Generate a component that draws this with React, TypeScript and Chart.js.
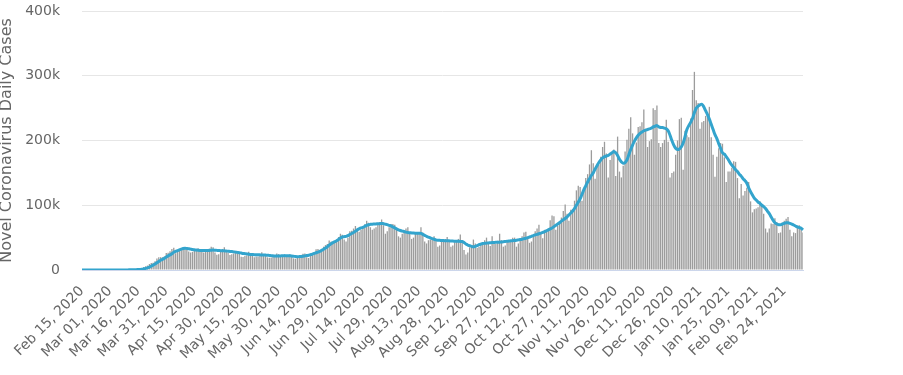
import React, { useEffect, useRef } from "react";
import { Chart, registerables } from "chart.js";

Chart.register(...registerables);

// Daily new cases (thousands), one value per day from Feb 15, 2020 to Mar 06, 2021
const dailyNewCases: number[] = [
  0, 0, 0, 0, 0, 0, 0,
  0, 0, 0, 0, 0, 0, 0,
  0.01, 0.01, 0.02, 0.03, 0.03, 0.06, 0.08,
  0.1, 0.1, 0.2, 0.3, 0.4, 0.5, 0.6,
  0.8, 0.8, 1.0, 1.8, 2.8, 4.7, 5.6,
  6.9, 9.3, 10.8, 11.2, 13.4, 17.8, 19.5,
  19.8, 19.6, 21.0, 26.2, 26.6, 28.8, 32.4,
  34.4, 25.9, 29.0, 32.0, 31.0, 34.0, 35.0,
  32.0, 28.5, 27.0, 28.0, 31.0, 32.5, 33.5,
  30.5, 28.5, 27.0, 28.5, 29.5, 33.0, 36.0,
  35.0, 27.0, 23.5, 24.5, 28.0, 32.5, 35.0,
  30.0, 26.5, 23.0, 24.5, 25.5, 29.5, 29.0,
  25.5, 20.5, 20.0, 21.5, 22.5, 28.0, 25.5,
  25.0, 19.5, 21.0, 21.0, 22.0, 27.5, 24.5,
  22.0, 19.5, 19.0, 19.2, 20.5, 22.0, 25.5,
  24.5, 21.5, 21.0, 21.0, 20.0, 22.0, 24.5,
  22.0, 18.0, 17.5, 18.5, 21.0, 22.0, 25.0,
  25.5, 19.5, 18.5, 23.5, 25.5, 27.5, 32.0,
  32.5, 27.0, 31.5, 36.0, 38.5, 40.0, 45.5,
  43.5, 40.5, 42.0, 47.0, 51.0, 56.0, 54.5,
  47.0, 44.0, 50.0, 60.0, 60.5, 64.0, 68.0,
  62.5, 59.0, 62.0, 66.5, 70.5, 76.0, 73.0,
  66.0, 62.0, 64.0, 66.0, 72.0, 74.0, 78.0,
  69.0, 56.0, 60.0, 66.0, 71.0, 71.0, 70.0,
  62.0, 52.0, 50.0, 56.0, 60.0, 64.0, 66.0,
  58.0, 48.0, 50.0, 56.0, 57.0, 56.0, 66.0,
  58.0, 44.0, 41.0, 46.0, 47.0, 48.0, 52.0,
  46.0, 36.0, 38.0, 44.0, 46.0, 48.0, 51.0,
  45.0, 36.0, 38.0, 43.0, 45.0, 48.0, 55.0,
  44.0, 31.0, 24.0, 27.0, 35.0, 38.0, 47.0,
  41.0, 34.0, 36.0, 40.0, 40.0, 46.0, 50.0,
  43.0, 37.0, 52.0, 40.0, 40.0, 45.0, 56.0,
  46.0, 36.0, 38.0, 44.0, 44.0, 46.0, 50.0,
  50.0, 36.0, 41.0, 46.0, 52.0, 58.0, 59.0,
  50.0, 42.0, 44.0, 53.0, 60.0, 64.0, 70.0,
  56.0, 49.0, 62.0, 62.0, 64.0, 77.0, 84.0,
  83.0, 62.0, 68.0, 75.0, 81.0, 91.0, 101.0,
  87.0, 76.0, 93.0, 94.0, 107.0, 123.0, 130.0,
  128.0, 107.0, 122.0, 142.0, 148.0, 163.0, 185.0,
  165.0, 141.0, 159.0, 163.0, 175.0, 190.0, 198.0,
  180.0, 143.0, 170.0, 180.0, 186.0, 145.0, 206.0,
  152.0, 143.0, 161.0, 183.0, 201.0, 218.0, 236.0,
  211.0, 178.0, 197.0, 221.0, 222.0, 228.0, 248.0,
  218.0, 190.0, 199.0, 202.0, 250.0, 247.0, 254.0,
  196.0, 190.0, 196.0, 201.0, 232.0, 198.0, 143.0,
  150.0, 152.0, 178.0, 200.0, 233.0, 235.0, 155.0,
  215.0, 208.0, 205.0, 234.0, 278.0, 306.0, 262.0,
  258.0, 218.0, 228.0, 230.0, 238.0, 240.0, 252.0,
  205.0, 178.0, 144.0, 175.0, 188.0, 196.0, 195.0,
  174.0, 136.0, 152.0, 152.0, 158.0, 168.0, 167.0,
  142.0, 111.0, 133.0, 115.0, 122.0, 127.0, 136.0,
  106.0, 89.0, 94.0, 95.0, 97.0, 106.0, 102.0,
  87.0, 64.0, 58.0, 64.0, 72.0, 71.0, 80.0,
  74.0, 57.0, 58.0, 73.0, 76.0, 79.0, 82.0,
  62.0, 52.0, 58.0, 57.0, 67.0, 69.0, 66.0,
  58.0,
];

// 7-day moving average (thousands), same days
const sevenDayAverage: number[] = [
  0, 0, 0, 0, 0, 0, 0,
  0, 0, 0, 0, 0, 0, 0,
  0, 0, 0, 0.01, 0.01, 0.02, 0.03,
  0.05, 0.07, 0.1, 0.15, 0.2, 0.27, 0.35,
  0.45, 0.55, 0.65, 0.85, 1.2, 1.8, 2.5,
  3.4, 4.6, 6.0, 7.5, 9.3, 11.2, 13.2,
  15.0, 16.5, 18.0, 20.0, 21.8, 23.3, 25.2,
  27.5, 28.8, 30.0, 31.2, 32.2, 33.2, 33.6,
  33.3, 32.8, 32.2, 31.6, 31.2, 30.8, 30.5,
  30.3, 30.2, 30.0, 30.0, 30.0, 30.2, 30.6,
  30.8, 30.6, 30.3, 30.0, 29.9, 29.8, 29.6,
  29.3, 29.0, 28.7, 28.4, 28.0, 27.6, 27.2,
  26.8, 26.2, 25.6, 25.2, 24.8, 24.4, 24.1,
  23.9, 23.7, 23.6, 23.5, 23.4, 23.3, 23.2,
  23.0, 22.8, 22.5, 22.2, 21.9, 21.6, 21.5,
  21.6, 21.8, 22.0, 22.2, 22.1, 22.0, 21.9,
  21.6, 21.2, 20.8, 20.6, 20.7, 20.9, 21.3,
  21.8, 22.3, 22.8, 23.7, 24.6, 25.6, 26.6,
  27.6, 28.8, 30.4, 32.1, 34.0, 36.0, 38.4,
  40.5, 42.3, 43.8, 45.2, 47.2, 49.5, 51.0,
  51.5, 52.0, 53.0, 54.8, 56.3, 58.0, 60.0,
  62.0, 63.6, 65.0, 66.0, 67.4, 69.0, 70.0,
  70.5, 70.8, 71.0, 71.2, 71.5, 71.6, 72.0,
  71.5, 70.8, 70.0, 69.0, 68.0, 66.5, 65.0,
  63.5, 62.0, 61.0, 60.0, 59.5, 58.5, 58.0,
  57.6, 57.3, 57.0, 56.8, 56.7, 56.7, 56.5,
  55.0, 53.5, 52.0, 50.8, 49.5, 48.5, 47.5,
  46.5, 46.0, 45.8, 45.6, 45.4, 45.3, 45.2,
  45.0, 44.8, 44.6, 44.5, 44.4, 44.3, 44.2,
  44.0, 42.5, 40.0, 38.5, 37.5, 36.5, 36.0,
  36.5, 37.5, 39.0, 40.0, 40.8, 41.2, 41.5,
  41.8, 42.0, 42.3, 42.5, 42.7, 42.8, 43.0,
  43.3, 43.6, 44.0, 44.4, 44.8, 45.0, 45.3,
  45.6, 46.0, 46.5, 47.0, 47.6, 48.3, 49.0,
  50.0, 51.0, 52.0, 53.2, 54.2, 55.0, 56.0,
  57.0, 58.0, 59.2, 60.5, 62.0, 63.5, 65.0,
  67.0, 69.0, 71.0, 73.0, 75.5, 77.5, 79.5,
  82.0, 85.0, 88.0, 91.0, 95.0, 100.0, 105.0,
  110.0, 117.0, 124.0, 130.0, 136.0, 141.0, 146.0,
  150.0, 156.0, 161.0, 166.0, 170.0, 173.0, 175.0,
  176.0, 177.0, 179.0, 181.0, 183.0, 181.0, 177.0,
  171.0, 167.0, 165.0, 166.0, 170.0, 178.0, 186.0,
  193.0, 199.0, 204.0, 208.0, 211.0, 213.0, 215.0,
  216.0, 217.0, 218.0, 219.0, 221.0, 222.0, 223.0,
  221.0, 220.0, 220.0, 219.0, 218.0, 215.0, 208.0,
  200.0, 193.0, 188.0, 186.0, 187.0, 190.0, 196.0,
  206.0, 217.0, 223.0, 228.0, 234.0, 243.0, 250.0,
  253.0, 255.0, 256.0, 252.0, 246.0, 240.0, 233.0,
  225.0, 217.0, 209.0, 203.0, 195.0, 188.0, 181.0,
  179.0, 175.0, 171.0, 166.0, 162.0, 158.5, 155.0,
  152.0, 148.0, 145.0, 141.0, 138.0, 134.0, 127.0,
  121.0, 116.0, 111.0, 108.0, 105.0, 103.0, 100.0,
  98.0, 95.0, 91.0, 87.0, 82.0, 77.0, 73.0,
  71.0, 70.0, 70.0, 71.0, 72.0, 73.0, 73.0,
  72.0, 71.0, 69.5, 68.0, 66.5, 65.5, 64.5,
  62.0,
];

// X tick labels, shown every 15 days
const tickLabels: string[] = [
  "Feb 15, 2020", "Mar 01, 2020", "Mar 16, 2020", "Mar 31, 2020", "Apr 15, 2020",
  "Apr 30, 2020", "May 15, 2020", "May 30, 2020", "Jun 14, 2020", "Jun 29, 2020",
  "Jul 14, 2020", "Jul 29, 2020", "Aug 13, 2020", "Aug 28, 2020", "Sep 12, 2020",
  "Sep 27, 2020", "Oct 12, 2020", "Oct 27, 2020", "Nov 11, 2020", "Nov 26, 2020",
  "Dec 11, 2020", "Dec 26, 2020", "Jan 10, 2021", "Jan 25, 2021", "Feb 09, 2021",
  "Feb 24, 2021",
];
const TICK_STEP = 15;

// Y tick values (thousands)
const yTicks: number[] = [0, 100, 200, 300, 400];

const MONTHS = ["Jan", "Feb", "Mar", "Apr", "May", "Jun", "Jul", "Aug", "Sep", "Oct", "Nov", "Dec"];
const categories: string[] = dailyNewCases.map((_, i) => {
  const d = new Date(2020, 1, 15 + i);
  return `${MONTHS[d.getMonth()]} ${String(d.getDate()).padStart(2, "0")}, ${d.getFullYear()}`;
});

const FONT = "'DejaVu Sans', Verdana, sans-serif";

export default function App() {
  const ref = useRef<HTMLCanvasElement | null>(null);

  useEffect(() => {
    if (!ref.current) return;
    Chart.defaults.font.family = FONT;
    const chart = new Chart(ref.current, {
      type: "bar",
      data: {
        labels: categories,
        datasets: [
          {
            type: "line",
            label: "7-day moving average",
            data: sevenDayAverage,
            borderColor: "#33a4cd",
            backgroundColor: "#33a4cd",
            borderWidth: 3,
            pointRadius: 0,
            tension: 0.4,
            order: 0,
          } as any,
          {
            type: "bar",
            label: "Daily Cases",
            data: dailyNewCases,
            backgroundColor: "#9c9c9c",
            barPercentage: 0.7,
            categoryPercentage: 1,
            order: 1,
          },
        ],
      },
      options: {
        responsive: false,
        animation: false,
        layout: { padding: { top: 11, right: 100, left: 0, bottom: 0 } },
        plugins: { legend: { display: false }, tooltip: { enabled: false } },
        scales: {
          x: {
            type: "category",
            offset: false,
            grid: { display: false, drawTicks: false },
            border: { display: true, color: "#ccd6eb", width: 1 },
            ticks: {
              autoSkip: false,
              minRotation: 45,
              maxRotation: 45,
              padding: 13,
              color: "#666666",
              font: { size: 14, family: FONT },
              callback: (_v: any, index: number) =>
                index % TICK_STEP === 0 ? tickLabels[index / TICK_STEP] ?? null : null,
            },
            afterFit: (s: any) => {
              s.height = 105;
            },
          },
          y: {
            min: 0,
            max: yTicks[yTicks.length - 1],
            afterBuildTicks: (s: any) => {
              s.ticks = yTicks.map((v) => ({ value: v }));
            },
            ticks: {
              padding: 0,
              color: "#666666",
              font: { size: 14, family: FONT },
              callback: (v: any) => (v === 0 ? "0" : `${v}k`),
            },
            grid: {
              drawTicks: true,
              tickLength: 22,
              tickColor: "rgba(0,0,0,0)",
              color: (ctx: any) => (ctx.tick && ctx.tick.value === 0 ? "rgba(0,0,0,0)" : "#e6e6e6"),
            },
            border: { display: false },
            title: {
              display: true,
              text: "Novel Coronavirus Daily Cases",
              color: "#666666",
              font: { size: 16, family: FONT },
              padding: { top: -3, bottom: 0 },
            },
            afterFit: (s: any) => {
              s.width = 82;
            },
          },
        },
      } as any,
    });
    return () => chart.destroy();
  }, []);

  return (
    <div style={{ position: "absolute", left: 0, top: 0, width: 903, height: 375, background: "#fff" }}>
      <canvas ref={ref} width={903} height={375} style={{ display: "block" }} />
    </div>
  );
}
